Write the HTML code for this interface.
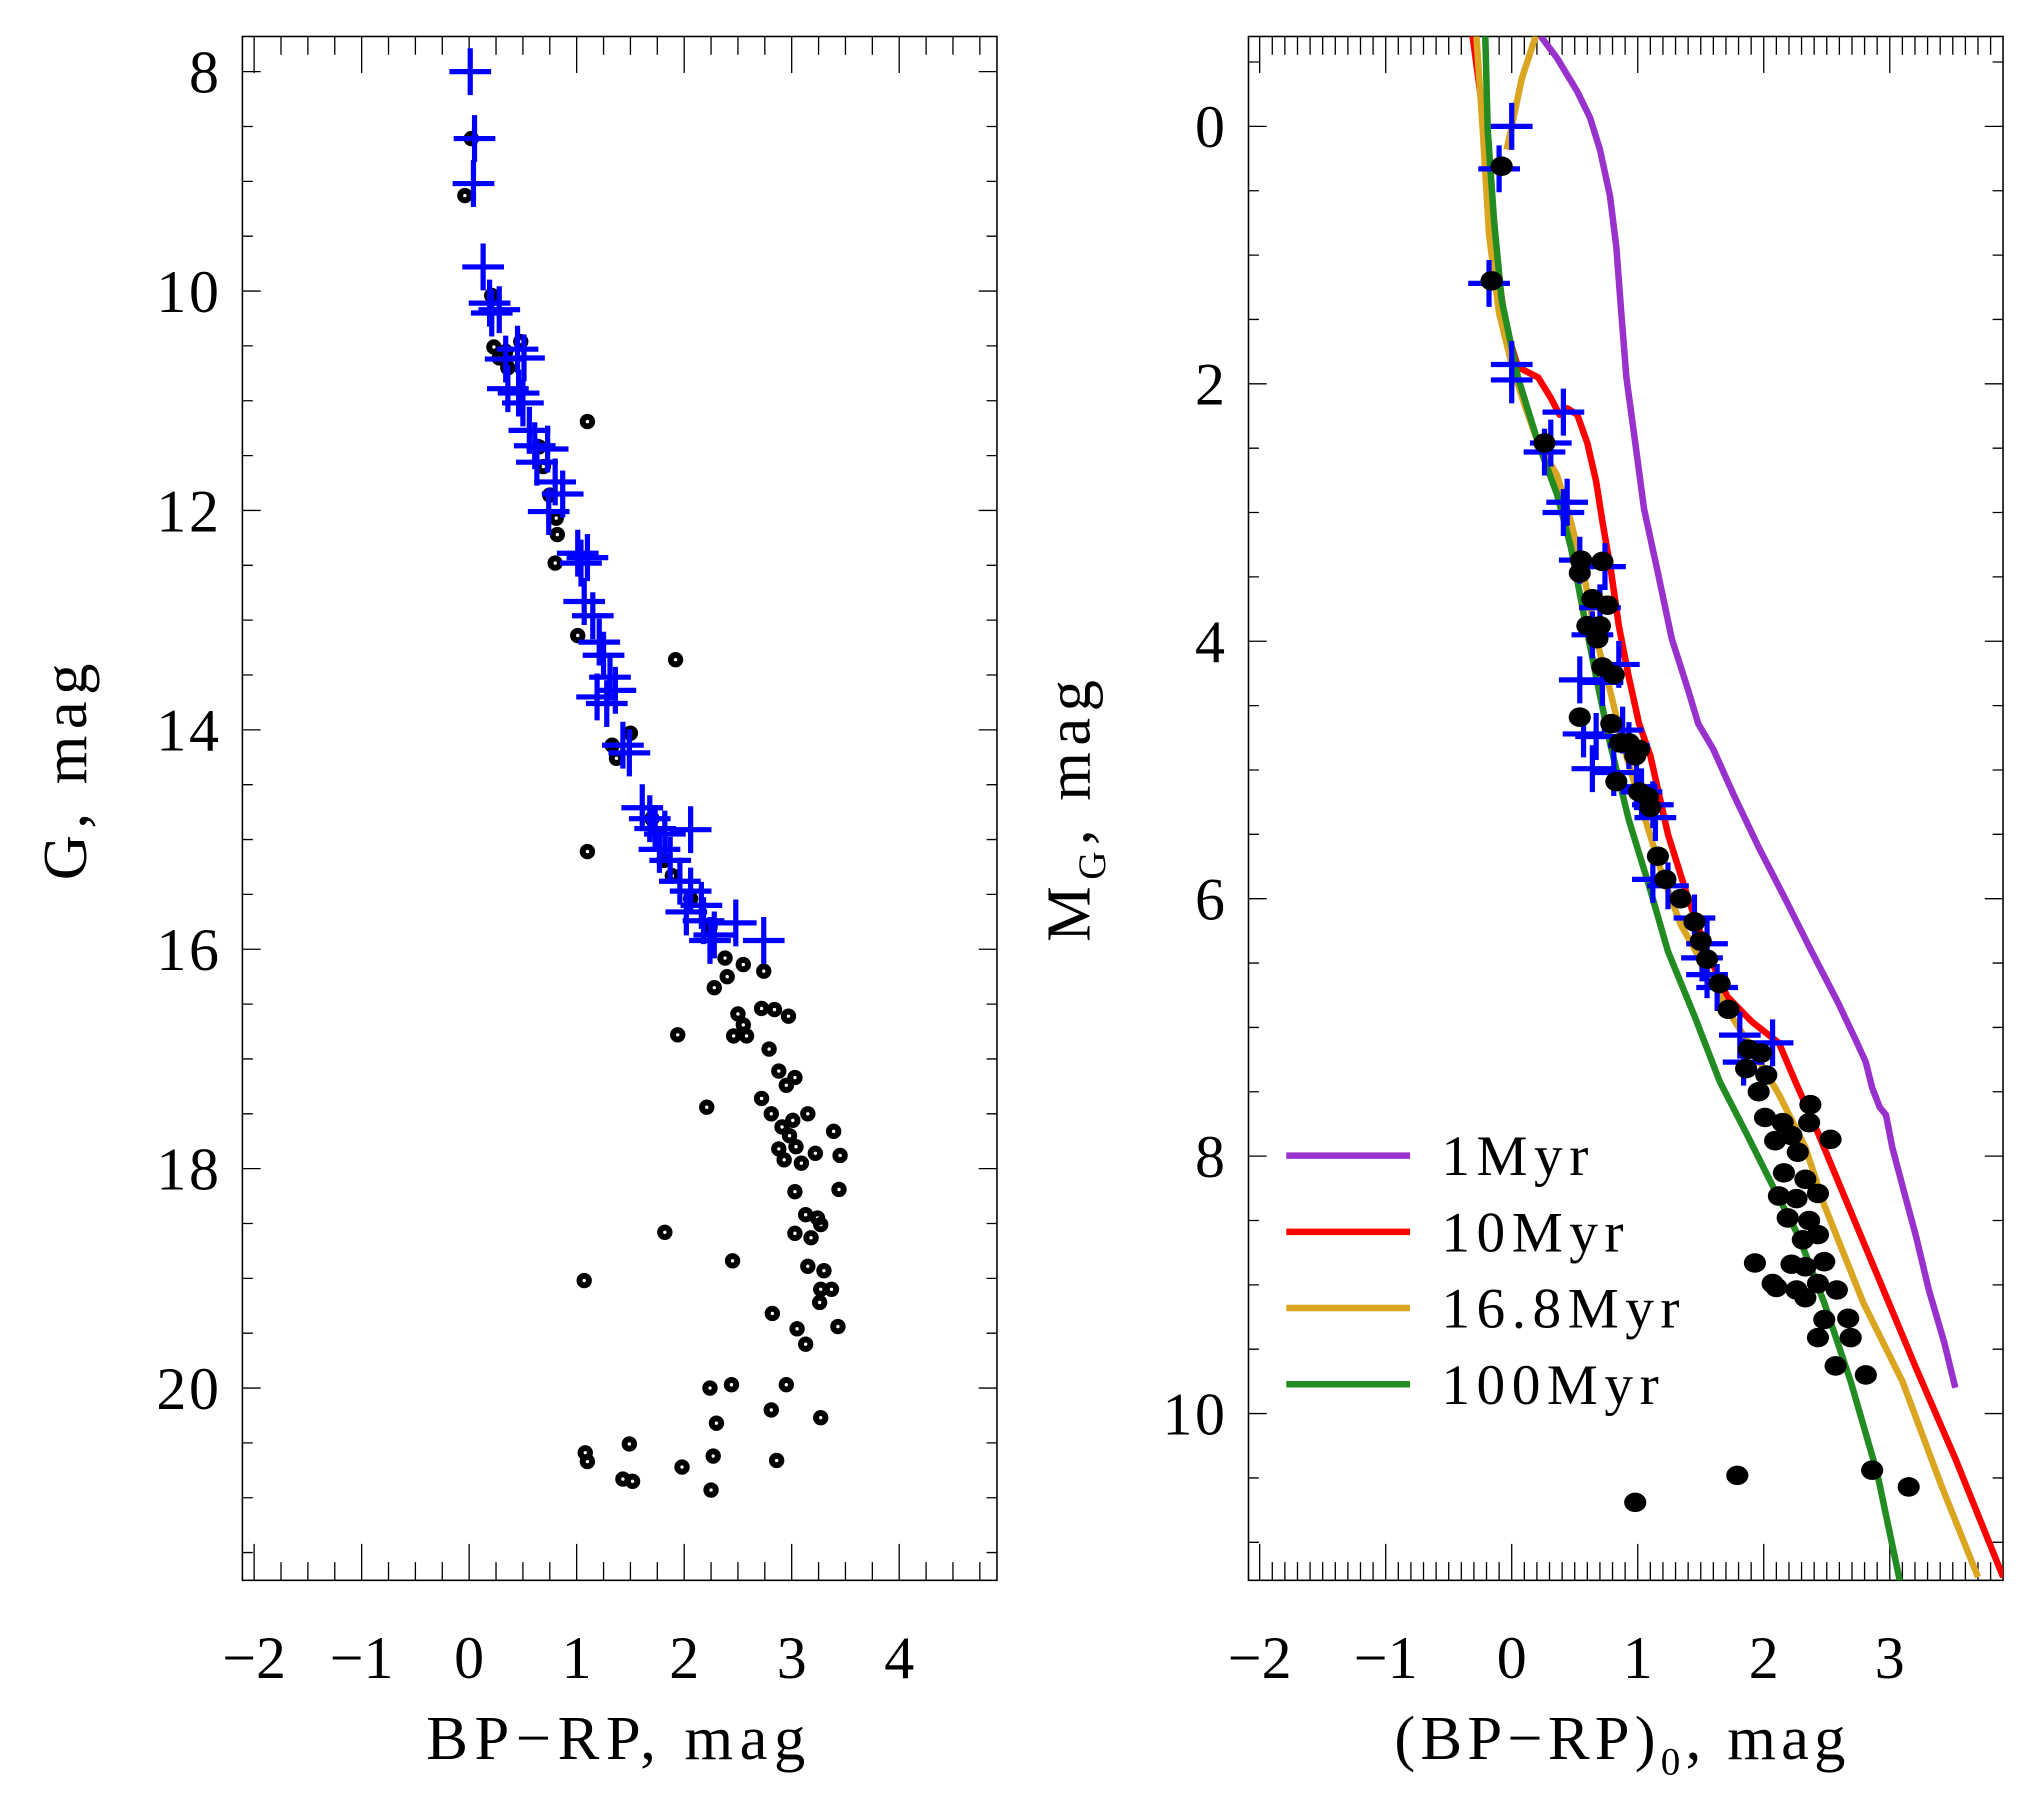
<!DOCTYPE html>
<html><head><meta charset="utf-8"><style>
html,body{margin:0;padding:0;background:#fff;}
svg{display:block;}
text{font-family:"Liberation Serif",serif;fill:#000;}
</style></head><body>
<svg id="fig" width="2033" height="1794" viewBox="0 0 1560 1377" preserveAspectRatio="none" xmlns="http://www.w3.org/2000/svg">
<defs>
<clipPath id="clipL"><rect x="186" y="28" width="579" height="1185"/></clipPath>
<clipPath id="clipR"><rect x="958" y="28" width="579" height="1185"/></clipPath>
</defs>
<g id="left"></g>
<g id="right"></g>
</svg>
<script>
// ---- Left panel data (BP-RP, G)
const leftDotX=[0.02,-0.04,0.21,0.23,0.34,0.48,0.28,0.36,0.65,0.69,0.75,0.81,0.82,0.80,1.10,1.01,1.10,1.92,1.33,1.37,1.50,1.70,1.81,1.89,2.06,2.24,2.38,2.40,2.55,2.74,2.28,2.50,2.55,2.46,2.58,2.72,2.84,2.97,2.79,2.88,2.95,3.03,2.72,2.81,2.91,3.01,3.15,2.98,3.04,2.88,2.93,3.09,3.22,3.03,3.13,3.24,3.39,3.45,3.44,3.03,3.18,3.27,3.15,3.27,3.30,3.37,3.43,3.05,3.13,3.26,2.82,1.94,2.21,1.82,2.45,1.07,2.24,2.44,2.95,2.81,3.27,2.30,2.86,2.27,1.98,2.25,1.49,1.08,1.10,1.43,1.52];
const leftDotG=[8.61,9.13,10.04,10.51,10.55,10.46,10.61,10.70,11.42,11.60,11.86,12.07,12.22,12.48,11.19,13.14,15.11,13.36,14.14,14.26,14.03,14.81,15.19,15.33,15.54,15.80,16.08,16.25,16.14,16.20,16.35,16.59,16.69,16.79,16.79,16.54,16.55,16.61,16.91,17.11,17.24,17.17,17.36,17.50,17.62,17.56,17.50,17.70,17.80,17.82,17.92,17.95,17.86,18.21,18.42,18.45,17.66,17.88,18.19,18.59,18.63,18.51,18.89,19.10,18.93,19.10,19.44,19.46,19.60,19.22,19.32,16.78,17.44,18.58,18.84,19.02,20.00,19.97,19.97,20.20,20.27,20.32,20.66,20.62,20.72,20.93,20.51,20.59,20.67,20.83,20.85];
const leftCrossX=[0.01,0.05,0.04,0.13,0.19,0.28,0.21,0.45,0.51,0.34,0.36,0.46,0.50,0.56,0.61,0.73,0.63,0.80,0.87,0.74,1.01,1.10,1.04,1.07,1.15,1.21,1.25,1.31,1.19,1.28,1.36,1.43,1.49,1.61,1.68,1.73,1.82,1.77,2.06,1.87,1.96,2.06,2.02,2.18,2.28,2.48,2.24,2.74,2.16];
const leftCrossG=[8.00,8.61,9.02,9.78,10.11,10.17,10.20,10.53,10.61,10.62,10.89,10.93,11.02,11.27,11.41,11.44,11.56,11.74,11.85,12.01,12.39,12.43,12.48,12.83,12.96,13.20,13.32,13.52,13.70,13.76,13.64,14.14,14.21,14.71,14.81,14.90,14.95,15.09,14.91,15.19,15.38,15.47,15.66,15.74,15.87,15.76,15.92,15.92,15.60];
const leftXTicks=[-2,-1,0,1,2,3,4];
const leftYTicks=[8,10,12,14,16,18,20];
// ---- Right panel data ((BP-RP)0, MG)
const rightCrossX=[0.0,-0.10,-0.18,0,0,0.41,0.31,0.26,0.44,0.41,0.54,0.74,0.70,0.64,0.85,0.54,0.72,0.67,0.88,0.93,0.57,0.64,0.81,1.03,0.99,1.12,1.14,1.12,1.24,1.45,1.55,1.51,1.55,1.63,1.81,2.07,1.84];
const rightCrossM=[0.0,0.33,1.22,1.85,1.97,2.22,2.46,2.53,2.92,3.00,3.37,3.42,3.74,3.95,4.18,4.30,4.32,4.74,4.69,4.81,4.72,4.99,5.02,5.17,5.13,5.27,5.37,5.85,5.90,6.15,6.35,6.46,6.59,6.69,7.06,7.12,7.27];
const rightDotX=[-0.08,-0.16,0.26,0.55,0.72,0.54,0.64,0.76,0.60,0.70,0.68,0.72,0.81,0.54,0.79,0.86,0.93,1.01,0.98,0.83,1.01,1.08,1.10,1.16,1.22,1.34,1.45,1.50,1.55,1.65,1.72,1.88,1.98,1.86,2.02,1.96,2.01,2.15,2.22,2.09,2.37,2.36,2.53,2.27,2.16,2.33,2.12,2.26,2.43,2.19,2.36,2.31,2.43,2.48,2.33,2.22,2.07,2.26,2.43,2.33,2.58,2.48,2.67,2.43,2.69,2.57,2.81,1.93,2.10,2.86,3.15,1.79,0.98];
const rightDotM=[0.31,1.20,2.46,3.37,3.38,3.47,3.67,3.72,3.88,3.88,3.98,4.20,4.26,4.59,4.64,4.79,4.79,4.84,4.89,5.09,5.17,5.21,5.29,5.67,5.85,6.00,6.18,6.33,6.47,6.66,6.86,7.17,7.20,7.32,7.37,7.50,7.70,7.74,7.84,7.88,7.60,7.74,7.87,7.97,8.13,8.18,8.31,8.33,8.29,8.48,8.50,8.65,8.61,8.82,8.86,8.84,8.99,9.04,8.99,9.10,9.04,9.27,9.26,9.41,9.41,9.63,9.70,8.83,9.02,10.44,10.57,10.48,10.69];
const iso1X=[0.23,0.36,0.52,0.62,0.70,0.78,0.83,0.87,0.91,0.98,1.05,1.16,1.27,1.40,1.48,1.60,1.76,1.96,2.17,2.38,2.59,2.74,2.81,2.86,2.92,2.97,3.02,3.10,3.21,3.31,3.43,3.52];
const iso1M=[-0.70,-0.53,-0.27,-0.07,0.18,0.54,0.94,1.45,1.95,2.46,2.97,3.47,3.98,4.38,4.64,4.84,5.19,5.60,6.00,6.41,6.81,7.12,7.27,7.47,7.62,7.68,7.93,8.23,8.63,9.04,9.44,9.80];
const iso10X=[-0.31,-0.21,-0.12,-0.05,0.05,0.21,0.31,0.38,0.44,0.52,0.60,0.67,0.72,0.79,0.85,0.93,1.01,1.10,1.24,1.40,1.55,1.71,1.91,2.12,2.25,2.43,2.69,2.95,3.21,3.52,3.90];
const iso10M=[-0.70,0.03,1.04,1.55,1.87,1.95,2.11,2.24,2.19,2.24,2.46,2.76,3.07,3.47,3.88,4.28,4.64,4.89,5.50,6.00,6.41,6.76,6.96,7.12,7.42,7.82,8.43,9.04,9.65,10.35,11.27];
const iso16X=[-0.28,-0.23,-0.18,-0.10,0,0.10,0.21,0.36,0.47,0.57,0.67,0.78,0.88,1.03,1.19,1.34,1.55,1.71,1.91,2.12,2.33,2.48,2.79,3.10,3.41,3.70];
const iso16M=[-0.70,0.03,0.84,1.45,1.85,2.16,2.46,2.71,3.07,3.47,3.98,4.38,4.79,5.29,5.80,6.20,6.56,6.86,7.17,7.52,7.93,8.38,9.14,9.75,10.56,11.27];
const iso16bX=[0.19,0.08,0,-0.04];
const iso16bM=[-0.70,-0.37,0,0.18];
const iso100X=[-0.21,-0.19,-0.14,-0.08,0.05,0.21,0.36,0.47,0.57,0.67,0.78,0.93,1.09,1.24,1.45,1.65,1.86,2.07,2.28,2.48,2.69,2.90,3.08];
const iso100M=[-0.70,0.03,0.74,1.35,1.95,2.46,2.86,3.27,3.78,4.28,4.79,5.39,5.90,6.41,6.91,7.42,7.82,8.23,8.63,9.14,9.75,10.46,11.30];
const rightXTicks=[-2,-1,0,1,2,3];
const rightYTicks=[0,2,4,6,8,10];
const legendLabels=["1Myr","10Myr","16.8Myr","100Myr"];
const legendColors=["#9932CC","#FF0000","#DAA520","#228B22"];

const NS="http://www.w3.org/2000/svg";
function mk(parent,tag,attrs){const e=document.createElementNS(NS,tag);for(const k in attrs)e.setAttribute(k,attrs[k]);parent.appendChild(e);return e;}

const L={x0:186,x1:765,y0:28,y1:1213};
const lx=v=>360+82.5*v;
const ly=v=>55+84.2*(v-8);
const R={x0:958,x1:1537,y0:28,y1:1213};
const rx=v=>1160+96.7*v;
const ry=v=>97+98.8*v;

function frame(g,F,xf,yf,xmin,xmax,xmin_step,ymin,ymax,ymin_step,xTicks,yTicks,prefix){
  const r=mk(g,'rect',{x:F.x0,y:F.y0,width:F.x1-F.x0,height:F.y1-F.y0,fill:'none',stroke:'#000','stroke-width':1.2});
  
  
  let d='';
  for(let v=Math.ceil(xmin/xmin_step)*xmin_step;v<=xmax+1e-9;v+=xmin_step){
    const px=xf(v); if(px<F.x0||px>F.x1)continue;
    const maj=Math.abs(v-Math.round(v))<1e-6;
    const len=maj?28:14;
    d+=`M${px},${F.y1}v${-len}M${px},${F.y0}v${len}`;
  }
  for(let v=Math.ceil(ymin/ymin_step)*ymin_step;v<=ymax+1e-9;v+=ymin_step){
    const py=yf(v); if(py<F.y0||py>F.y1)continue;
    const maj=Math.abs(v/2-Math.round(v/2))<1e-6;
    const len=maj?14:8;
    d+=`M${F.x0},${py}h${len}M${F.x1},${py}h${-len}`;
  }
  const t=mk(g,'path',{d:d,stroke:'#000','stroke-width':1,fill:'none'});
  
  
  xTicks.forEach(v=>{
    const s=mk(g,'text',{x:xf(v),y:1288,'font-size':46,'text-anchor':'middle'});
    s.textContent=(v<0?'\u2212':'')+Math.abs(v);
    
    
  });
  yTicks.forEach(v=>{
    const s=mk(g,'text',{x:F.x0-16,y:yf(v)+16,'font-size':46,'text-anchor':'end','letter-spacing':2});
    s.textContent=v;
    
    
  });
}
function cross(g,x,y,name){
  const p=mk(g,'path',{d:`M${x-16},${y}h32M${x},${y-18}v36`,stroke:'#0000FF','stroke-width':4,fill:'none'});
  
  
}
function line(g,xs,ys,xf,yf,color,name,clip){
  const pts=xs.map((v,i)=>xf(v).toFixed(1)+','+yf(ys[i]).toFixed(1)).join(' ');
  const p=mk(g,'polyline',{points:pts,fill:'none',stroke:color,'stroke-width':5,'stroke-linejoin':'round','clip-path':clip});
  
  
}

// LEFT
const gl=document.getElementById('left');
frame(gl,L,lx,ly,-2.1,4.92,0.25,7.7,21.75,0.5,leftXTicks,leftYTicks,'left');
const dl=mk(gl,'g',{'clip-path':'url(#clipL)'});
leftDotX.forEach((v,i)=>{
  const c=mk(dl,'circle',{cx:lx(v),cy:ly(leftDotG[i]),r:3.6,fill:'none',stroke:'#000','stroke-width':4.6});
  
  
});
leftCrossX.forEach((v,i)=>cross(dl,lx(v),ly(leftCrossG[i]),'left-member-cross'));
let tt=mk(gl,'text',{x:475,y:1350,'font-size':48,'text-anchor':'middle','letter-spacing':5});
tt.textContent='BP\u2212RP,  mag';


tt=mk(gl,'text',{x:0,y:0,'font-size':48,'text-anchor':'middle','letter-spacing':5,transform:'translate(66,590) rotate(-90)'});
tt.textContent='G,  mag';



// RIGHT
const gr=document.getElementById('right');
frame(gr,R,rx,ry,-2.09,3.9,0.1,-0.7,11.3,0.5,rightXTicks,rightYTicks,'right');
const dr=mk(gr,'g',{});
line(dr,iso1X,iso1M,rx,ry,legendColors[0],'isochrone-1myr','url(#clipR)');
line(dr,iso10X,iso10M,rx,ry,legendColors[1],'isochrone-10myr','url(#clipR)');
line(dr,iso16X,iso16M,rx,ry,legendColors[2],'isochrone-16-8myr','url(#clipR)');
line(dr,iso16bX,iso16bM,rx,ry,legendColors[2],'isochrone-16-8myr-turnoff','url(#clipR)');
line(dr,iso100X,iso100M,rx,ry,legendColors[3],'isochrone-100myr','url(#clipR)');
const dr2=mk(gr,'g',{'clip-path':'url(#clipR)'});
rightCrossX.forEach((v,i)=>cross(dr2,rx(v),ry(rightCrossM[i]),'right-member-cross'));
rightDotX.forEach((v,i)=>{
  const c=mk(dr2,'ellipse',{cx:rx(v),cy:ry(rightDotM[i]),rx:8.5,ry:7.5,fill:'#000'});
  
  
});
legendLabels.forEach((s,i)=>{
  const y=887+58.5*i;
  const l=mk(gr,'line',{x1:987,x2:1082,y1:y,y2:y,stroke:legendColors[i],'stroke-width':5});
  
  
  const t=mk(gr,'text',{x:1106,y:y+15,'font-size':44,'letter-spacing':5});
  t.textContent=s;
  
  
});
tt=mk(gr,'text',{x:1245,y:1350,'font-size':48,'text-anchor':'middle','letter-spacing':4});
tt.innerHTML='(BP\u2212RP)<tspan font-size="30" dy="12">0</tspan><tspan dy="-12">,  mag</tspan>';


tt=mk(gr,'text',{x:0,y:0,'font-size':48,'text-anchor':'middle','letter-spacing':5,transform:'translate(836,620) rotate(-90)'});
tt.innerHTML='M<tspan font-size="30" dy="12">G</tspan><tspan dy="-12">,  mag</tspan>';


</script>
</body></html>
